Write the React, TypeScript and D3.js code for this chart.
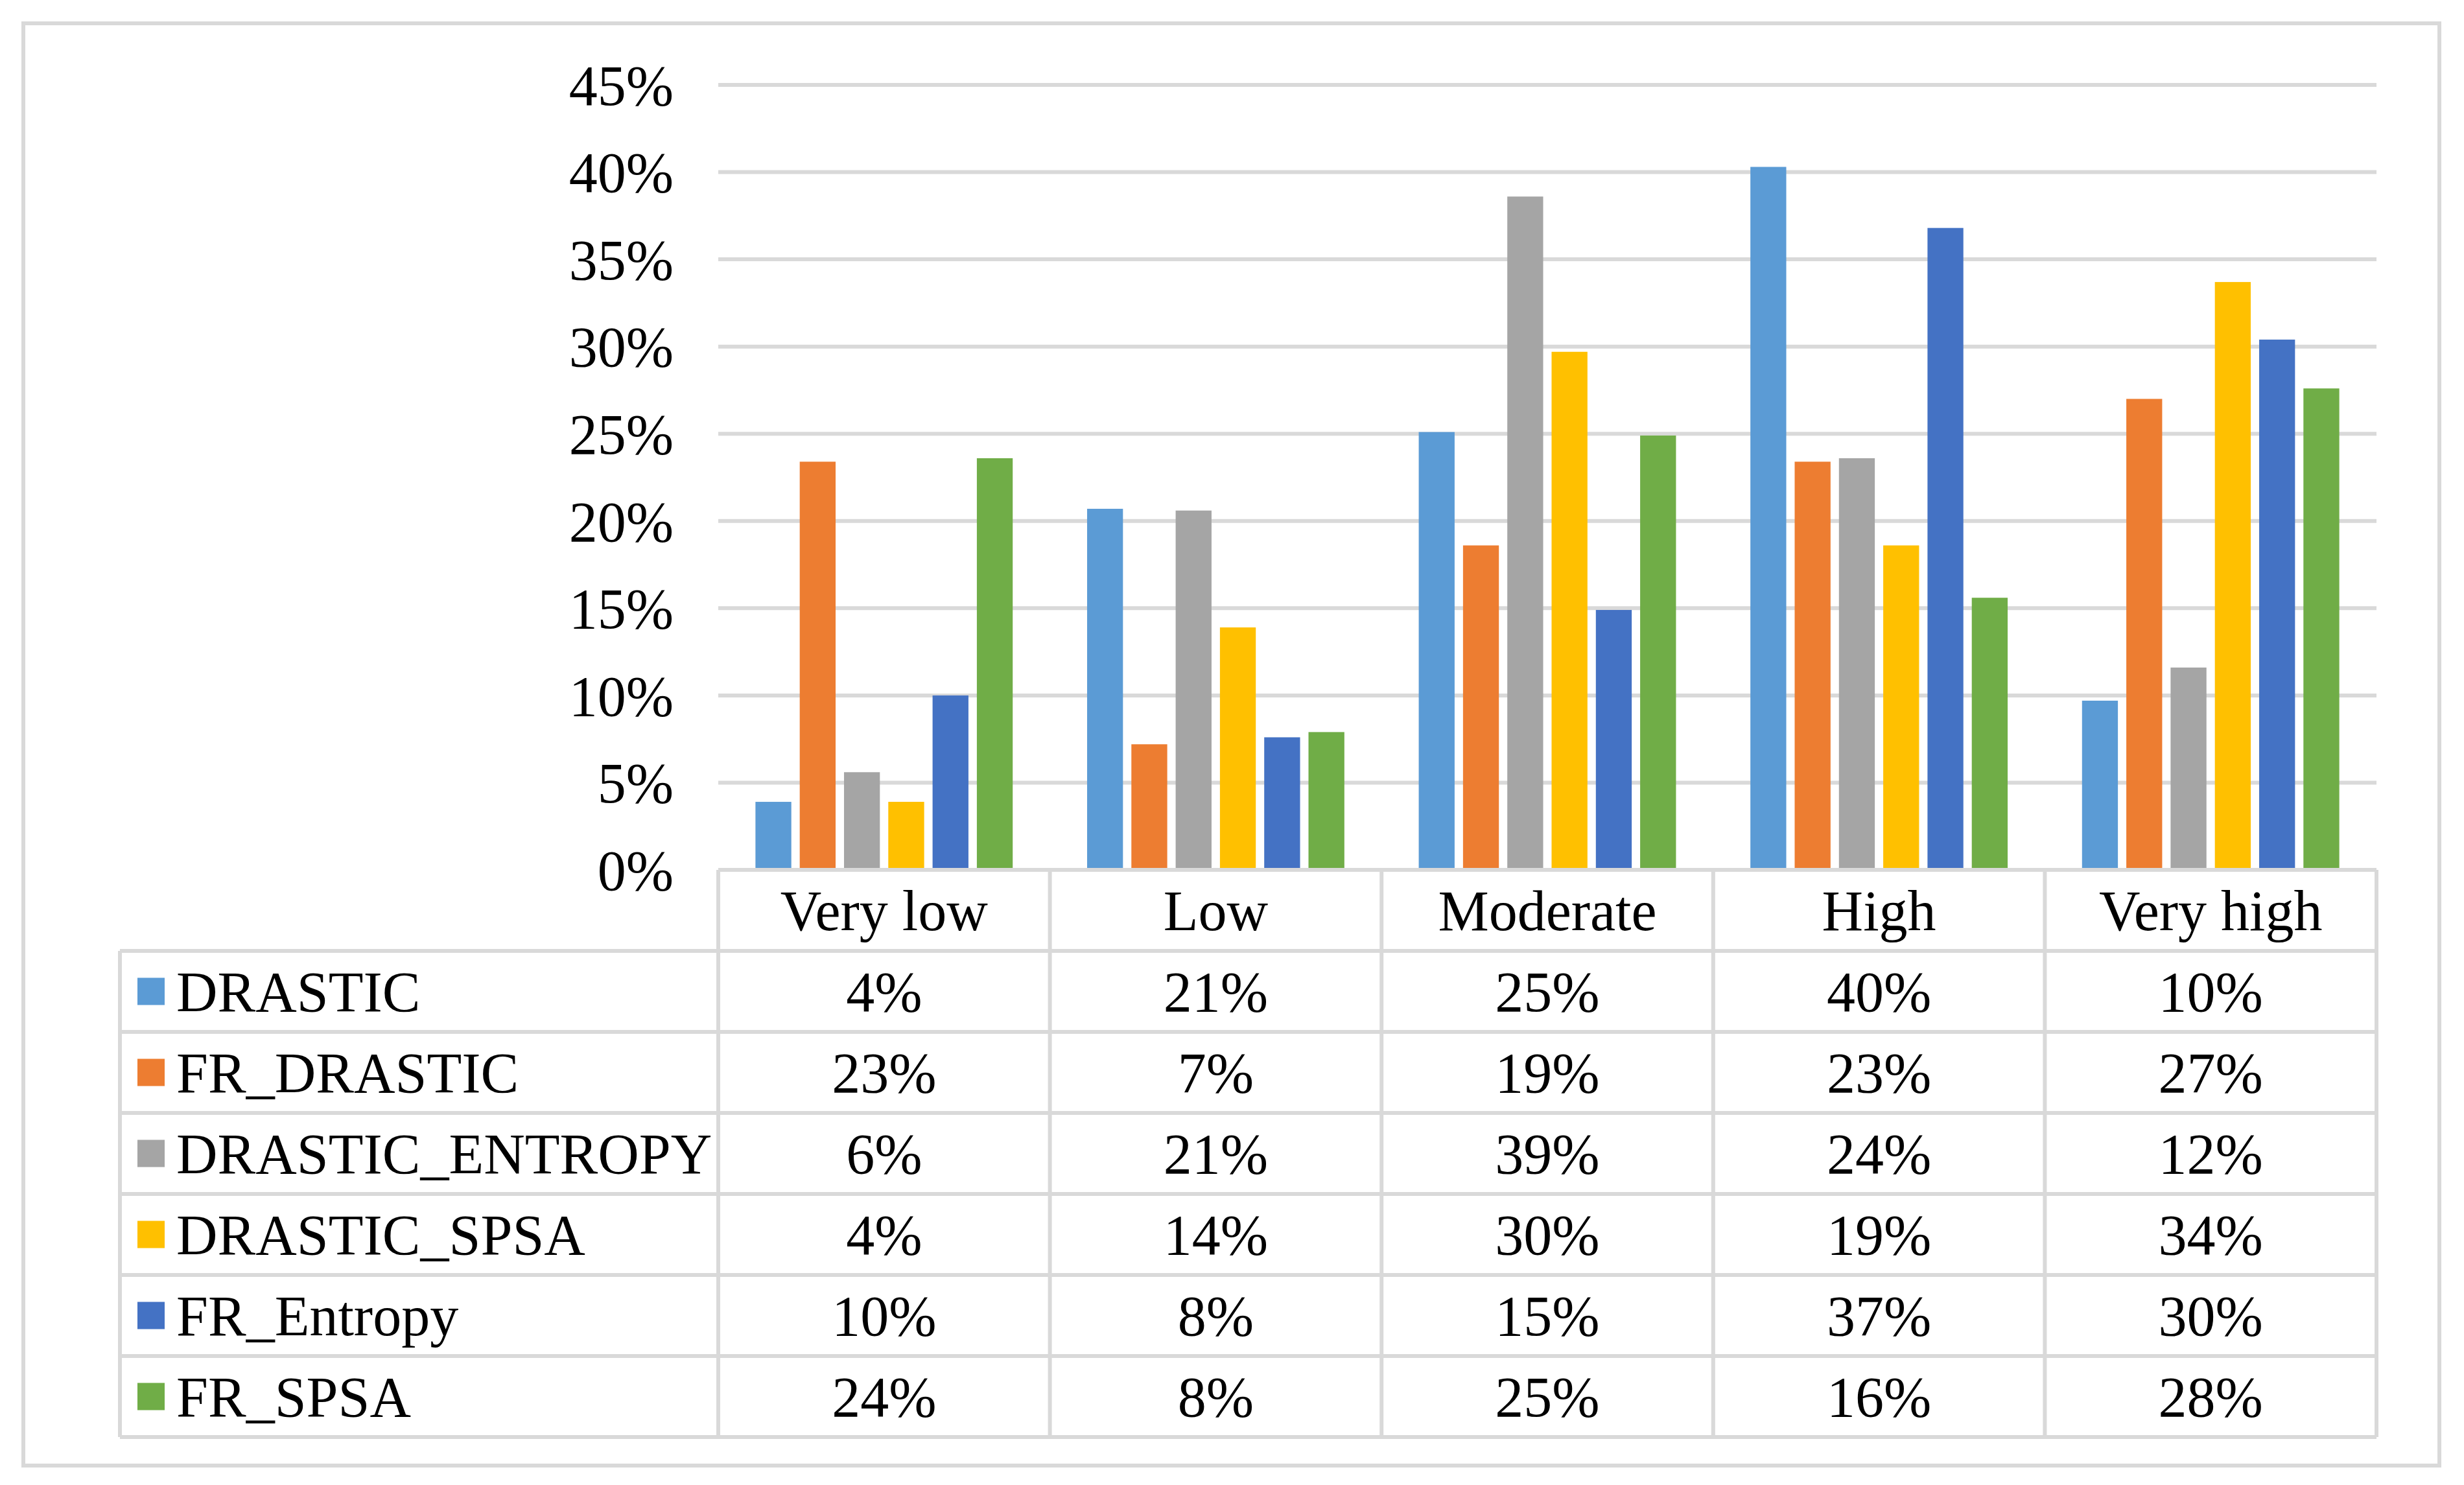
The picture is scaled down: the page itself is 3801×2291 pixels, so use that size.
import * as d3 from "d3";

const categories = ["Very low", "Low", "Moderate", "High", "Very high"];
const seriesNames = ["DRASTIC", "FR_DRASTIC", "DRASTIC_ENTROPY", "DRASTIC_SPSA", "FR_Entropy", "FR_SPSA"];
const seriesColors = ["#5B9BD5", "#ED7D31", "#A5A5A5", "#FFC000", "#4472C4", "#70AD47"];

// percent values, one per category
const drastic = [3.9, 20.7, 25.1, 40.3, 9.7];
const frDrastic = [23.4, 7.2, 18.6, 23.4, 27.0];
const drasticEntropy = [5.6, 20.6, 38.6, 23.6, 11.6];
const drasticSpsa = [3.9, 13.9, 29.7, 18.6, 33.7];
const frEntropy = [10.0, 7.6, 14.9, 36.8, 30.4];
const frSpsa = [23.6, 7.9, 24.9, 15.6, 27.6];

const seriesValues = [drastic, frDrastic, drasticEntropy, drasticSpsa, frEntropy, frSpsa];
const yTicks = [0, 5, 10, 15, 20, 25, 30, 35, 40, 45];

const W = 3801;
const H = 2291;
const plotLeft = 1108;
const plotRight = 3666;
const plotTop = 131;
const plotBottom = 1342;
const tableLeft = 185;
const tableBottom = 2217;
const lineColor = "#d9d9d9";
const font = "'Liberation Serif', 'Times New Roman', serif";
const fontSize = 88;

export default function App() {
  const x0 = d3.scaleBand<string>().domain(categories).range([plotLeft, plotRight]);
  const x1 = d3
    .scaleBand<string>()
    .domain(seriesNames)
    .range([0, x0.bandwidth()])
    .paddingInner(0.19)
    .paddingOuter(0.84);
  const y = d3.scaleLinear().domain([0, 45]).range([plotBottom, plotTop]);
  const rows = d3
    .scaleBand<string>()
    .domain(["header", ...seriesNames])
    .range([plotBottom, tableBottom]);
  const fmt = (v: number) => d3.format(".0%")(v / 100);

  return (
    <svg width={W} height={H} style={{ position: "absolute", left: 0, top: 0, background: "#fff" }}>
      <rect x={0} y={0} width={W} height={H} fill="#fff" />
      {/* outer frame */}
      <rect x={36} y={36} width={3763 - 36} height={2261 - 36} fill="none" stroke={lineColor} strokeWidth={6} />

      {/* gridlines */}
      {yTicks
        .filter((t) => t > 0)
        .map((t) => (
          <line key={t} x1={plotLeft} x2={plotRight} y1={y(t)} y2={y(t)} stroke={lineColor} strokeWidth={6} />
        ))}

      {/* y labels */}
      {yTicks.map((t) => (
        <text
          key={t}
          x={1039}
          y={y(t)}
          dy="0.35em"
          textAnchor="end"
          fontFamily={font}
          fontSize={fontSize}
          fill="#000"
        >
          {t}%
        </text>
      ))}

      {/* bars */}
      {seriesNames.map((s, si) =>
        categories.map((c, ci) => {
          const v = seriesValues[si][ci];
          return (
            <rect
              key={s + c}
              x={(x0(c) ?? 0) + (x1(s) ?? 0)}
              y={y(v)}
              width={x1.bandwidth()}
              height={y(0) - y(v)}
              fill={seriesColors[si]}
            />
          );
        })
      )}

      {/* table lines */}
      <g stroke={lineColor} strokeWidth={6}>
        <line x1={plotLeft} x2={plotRight} y1={plotBottom} y2={plotBottom} />
        {seriesNames.map((s) => (
          <line key={s} x1={tableLeft} x2={plotRight} y1={rows(s) ?? 0} y2={rows(s) ?? 0} />
        ))}
        <line x1={tableLeft} x2={plotRight} y1={tableBottom} y2={tableBottom} />
        <line x1={tableLeft} x2={tableLeft} y1={rows(seriesNames[0]) ?? 0} y2={tableBottom} />
        {categories.map((c) => (
          <line key={c} x1={x0(c) ?? 0} x2={x0(c) ?? 0} y1={plotBottom} y2={tableBottom} />
        ))}
        <line x1={plotRight} x2={plotRight} y1={plotBottom} y2={tableBottom} />
      </g>

      {/* header */}
      {categories.map((c) => (
        <text
          key={c}
          x={(x0(c) ?? 0) + x0.bandwidth() / 2}
          y={(rows("header") ?? 0) + rows.bandwidth() / 2}
          dy="0.35em"
          textAnchor="middle"
          fontFamily={font}
          fontSize={fontSize}
          fill="#000"
        >
          {c}
        </text>
      ))}

      {/* rows */}
      {seriesNames.map((s, si) => {
        const cy = (rows(s) ?? 0) + rows.bandwidth() / 2;
        return (
          <g key={s}>
            <rect x={212} y={cy - 21} width={42} height={42} fill={seriesColors[si]} />
            <text x={272} y={cy} dy="0.35em" fontFamily={font} fontSize={fontSize} fill="#000">
              {s}
            </text>
            {categories.map((c, ci) => (
              <text
                key={c}
                x={(x0(c) ?? 0) + x0.bandwidth() / 2}
                y={cy}
                dy="0.35em"
                textAnchor="middle"
                fontFamily={font}
                fontSize={fontSize}
                fill="#000"
              >
                {fmt(seriesValues[si][ci])}
              </text>
            ))}
          </g>
        );
      })}
    </svg>
  );
}
